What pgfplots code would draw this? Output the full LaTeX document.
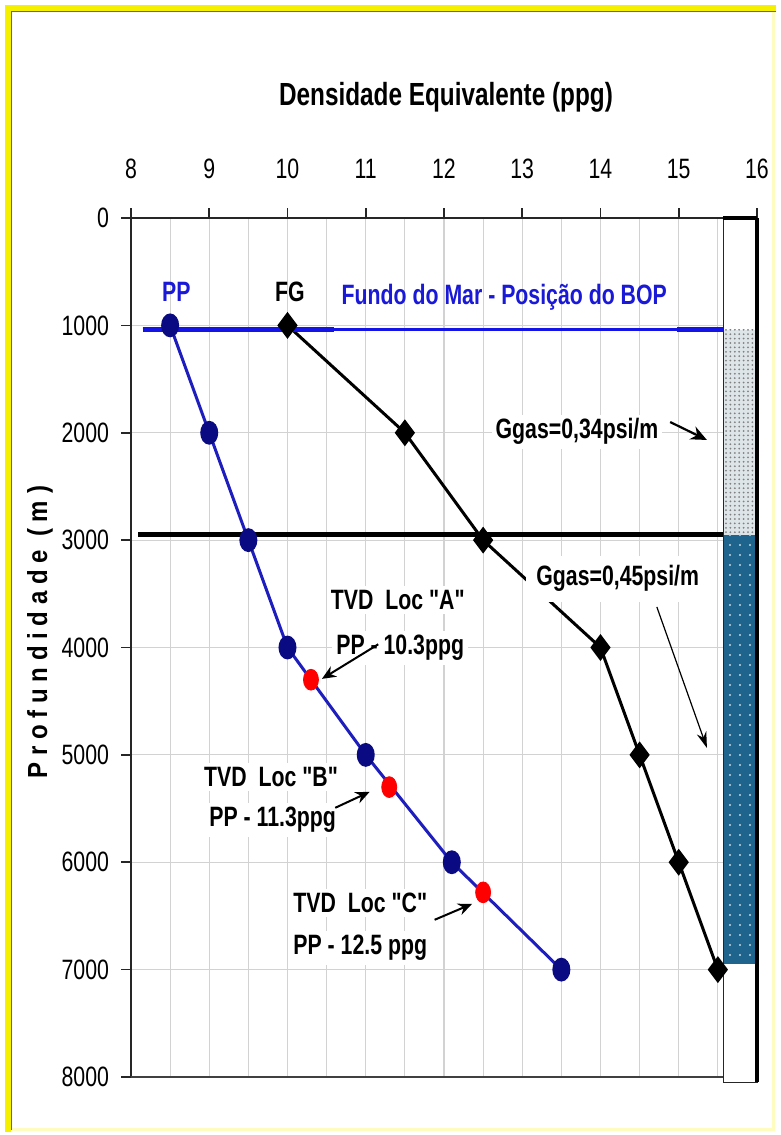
\documentclass[border=0pt]{standalone}
\usepackage{pgfplots}
\pgfplotsset{compat=1.18}
\usepackage{pgfplotstable}
\usepackage{fontspec}
\setmainfont{Liberation Sans}[FakeStretch=0.76, Ligatures=TeXOff]
\newfontfamily\ylabfont{Liberation Sans}
\usetikzlibrary{arrows.meta,patterns.meta}

\definecolor{ppblue}{RGB}{30,30,190}
\definecolor{ppmark}{RGB}{10,10,130}
\definecolor{seablue}{RGB}{20,20,230}
\definecolor{txtblue}{RGB}{25,25,215}
\definecolor{frameyel}{RGB}{245,240,0}
\definecolor{gasteal}{RGB}{30,100,140}
\definecolor{gaslight}{RGB}{222,229,233}

% pressao de poros (PP)
\pgfplotstableread{
x y
8.5 1000
9 2000
9.5 3000
10 4000
11 5000
12.1 6000
13.5 7000
}\pptable
% gradiente de fratura (FG)
\pgfplotstableread{
x y
10 1000
11.5 2000
12.5 3000
14 4000
14.5 5000
15 6000
15.5 7000
}\fgtable

\newcommand\tickfont{\fontsize{14}{16}\selectfont}

\begin{document}
\begin{tikzpicture}
\useasboundingbox (0,0) rectangle (390.5pt,-567.5pt);
\fill[white] (0,0) rectangle (390.5pt,-567.5pt);
% moldura
\fill[frameyel] (2.5pt,-2.5pt) rectangle (388pt,-5.5pt);
\fill[frameyel] (2.5pt,-2.5pt) rectangle (5.5pt,-566pt);
\draw[black!60, line width=0.7pt] (5.8pt,-565pt) -- (5.8pt,-5.8pt) -- (388pt,-5.8pt);
\draw[yellow!25, line width=1.5pt] (386.5pt,-6pt) -- (386.5pt,-564.5pt) -- (6pt,-564.5pt);

\node[font=\bfseries\fontsize{16}{19}\selectfont] at (223pt,-48.5pt) {Densidade Equivalente (ppg)};
\node[rotate=90, font=\ylabfont\bfseries\fontsize{12}{14}\selectfont] at (20pt,-316pt)
  {\scalebox{1}[1.15]{P r o f u n d i d a d e\ \ ( m )}};

\begin{axis}[
  at={(65.5pt,-109pt)}, anchor=north west,
  width=313pt, height=429.5pt, scale only axis,
  xmin=8, xmax=16, ymin=0, ymax=8000, y dir=reverse,
  axis x line*=top, axis y line*=left,
  axis line style={-, black!85, line width=0.8pt},
  xtick={8,9,10,11,12,13,14,15,16},
  ytick={0,1000,2000,3000,4000,5000,6000,7000,8000},
  minor x tick num=1,
  xmajorgrids, xminorgrids, ymajorgrids,
  major grid style={gray!35, line width=0.6pt},
  minor grid style={gray!35, line width=0.6pt},
  tick align=outside, major tick length=5pt, minor tick length=0pt,
  tick style={black!85, line width=0.8pt},
  scaled y ticks=false,
  /pgf/number format/set thousands separator={},
  /pgf/number format/assume math mode=true,
  tick label style={font=\tickfont},
  xticklabel style={yshift=11pt},
  yticklabel style={xshift=-2.5pt},
  clip=false,
]
% coluna de gas
\fill[white] (axis cs:15.57,0) rectangle (axis cs:16,1040);
\fill[gaslight] (axis cs:15.57,1040) rectangle (axis cs:16,2950);
\fill[pattern={Dots[distance=2.2pt,radius=0.5pt]}, pattern color=gray] (axis cs:15.57,1040) rectangle (axis cs:16,2950);
\fill[gasteal] (axis cs:15.57,2950) rectangle (axis cs:16,6950);
\fill[pattern={Dots[distance=5pt,radius=0.55pt]}, pattern color=white!75!gasteal] (axis cs:15.57,2950) rectangle (axis cs:16,6950);
\fill[white] (axis cs:15.57,6950) rectangle (axis cs:16,8050);
\draw[black!85, line width=0.8pt] (axis cs:15.57,0) rectangle (axis cs:16,8050);
\draw[black, line width=1.6pt] (axis cs:16,0) -- (axis cs:16,8050);
\draw[black, line width=1.6pt] (axis cs:15.57,0) -- (axis cs:16,0);
\draw[black!75, line width=0.8pt] (axis cs:8,8000) -- (axis cs:15.57,8000);

\addplot[black, line width=2.5pt] coordinates {(8.09,2950) (15.57,2950)};

\addplot[ppblue, line width=1.5pt, mark=*, mark size=5.2pt,
  mark options={fill=ppmark, draw=ppmark, xscale=0.72}] table {\pptable};
\addplot[black, line width=1.5pt, mark=diamond*, mark size=5.5pt,
  mark options={fill=black}] table {\fgtable};
\addplot[only marks, mark=*, mark size=5.2pt,
  mark options={fill=red, draw=red, xscale=0.72}] coordinates {(10.3,4300) (11.3,5300) (12.5,6280)};

\addplot[seablue, line width=1.5pt] coordinates {(8.15,1040) (15.57,1040)};
\addplot[seablue, line width=2.6pt] coordinates {(8.15,1040) (10.6,1040)};
\addplot[seablue, line width=2.6pt] coordinates {(14.98,1040) (15.57,1040)};

\begin{scope}[font=\bfseries\fontsize{14}{16}\selectfont]
\node[txtblue] at (axis cs:8.58,690) {PP};
\node at (axis cs:10.03,690) {FG};
\node[txtblue] at (axis cs:12.77,735) {Fundo do Mar - Posição do BOP};
\node[fill=white, inner sep=2pt] at (axis cs:13.70,1990) {Ggas=0,34psi/m};
\node[fill=white, inner sep=5pt] at (axis cs:14.22,3360) {Ggas=0,45psi/m};
\node[fill=white, inner sep=2pt] at (axis cs:11.41,3557) {TVD\ \ Loc "A"};
\node[fill=white, inner sep=2pt] at (axis cs:11.44,4004) {PP - 10.3ppg};
\node[fill=white, inner sep=2pt] at (axis cs:9.79,5205) {TVD\ \ Loc "B"};
\node[fill=white, inner sep=2pt] at (axis cs:9.81,5605) {PP - 11.3ppg};
\node[fill=white, inner sep=2pt] at (axis cs:10.93,6378) {TVD\ \ Loc "C"};
\node[fill=white, inner sep=2pt] at (axis cs:10.93,6797) {PP - 12.5 ppg};
\end{scope}

\draw[-{Stealth[length=8pt,width=7pt]}, line width=1.1pt] (axis cs:14.89,1900) -- (axis cs:15.36,2067);
\draw[-{Stealth[length=8pt,width=5pt]}, line width=0.6pt] (axis cs:14.72,3622) -- (axis cs:15.36,4935);
\draw[-{Stealth[length=7pt,width=6pt]}, line width=1pt] (axis cs:11.16,3970) -- (axis cs:10.44,4292);
\draw[-{Stealth[length=7pt,width=6pt]}, line width=1pt] (axis cs:10.61,5493) -- (axis cs:11.05,5344);
\draw[-{Stealth[length=7pt,width=6pt]}, line width=1pt] (axis cs:11.88,6536) -- (axis cs:12.36,6387);
\end{axis}
\end{tikzpicture}
\end{document}
